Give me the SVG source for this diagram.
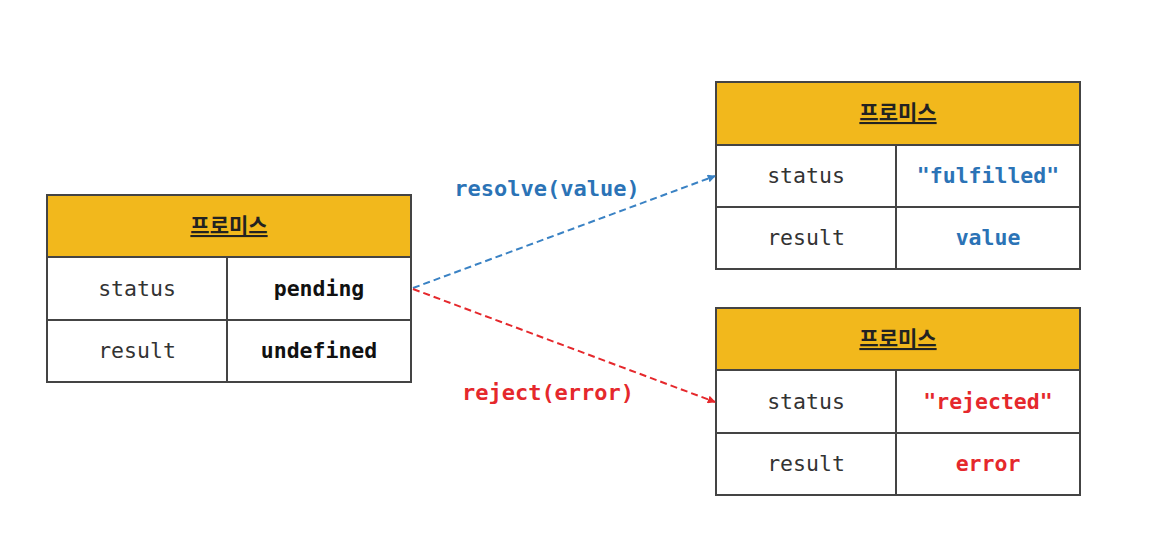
<svg xmlns="http://www.w3.org/2000/svg" width="1150" height="538" viewBox="0 0 1150 538">
<style>
.hdr{fill:#F2B81C;stroke:#444;stroke-width:2}
.cell{fill:#fff;stroke:#444;stroke-width:2}
.ht{font-family:"Noto Sans CJK KR","Noto Sans",sans-serif;font-weight:bold;font-size:21px;fill:#222;text-anchor:middle;text-decoration:underline}
.k{font-family:"DejaVu Sans Mono","Liberation Mono",monospace;font-size:21.5px;fill:#333;text-anchor:middle}
.v{font-family:"DejaVu Sans Mono","Liberation Mono",monospace;font-size:21.5px;font-weight:bold;fill:#111;text-anchor:middle}
.blue{fill:#2B73B6}
.red{fill:#E5282C}
.lb{font-family:"DejaVu Sans Mono","Liberation Mono",monospace;font-size:22px;font-weight:bold;text-anchor:middle}
</style>
<defs>
<marker id="ab" viewBox="0 0 10 10" refX="9" refY="5" markerWidth="8" markerHeight="8" orient="auto" markerUnits="userSpaceOnUse"><path d="M0,0 L10,5 L0,10 z" fill="#3A82C4"/></marker>
<marker id="ar" viewBox="0 0 10 10" refX="9" refY="5" markerWidth="8" markerHeight="8" orient="auto" markerUnits="userSpaceOnUse"><path d="M0,0 L10,5 L0,10 z" fill="#E5282C"/></marker>
</defs>
<rect width="1150" height="538" fill="#fff"/>
<g id="pending">
<rect class="hdr" x="47" y="195" width="364" height="62"/>
<rect class="cell" x="47" y="257" width="180" height="63"/>
<rect class="cell" x="227" y="257" width="184" height="63"/>
<rect class="cell" x="47" y="320" width="180" height="62"/>
<rect class="cell" x="227" y="320" width="184" height="62"/>
<text class="ht" x="229" y="233">프로미스</text>
<text class="k" x="137" y="296">status</text>
<text class="v" x="319" y="296">pending</text>
<text class="k" x="137" y="358">result</text>
<text class="v" x="319" y="358">undefined</text>
</g>
<g id="fulfilled">
<rect class="hdr" x="716" y="82" width="364" height="63"/>
<rect class="cell" x="716" y="145" width="180" height="62"/>
<rect class="cell" x="896" y="145" width="184" height="62"/>
<rect class="cell" x="716" y="207" width="180" height="62"/>
<rect class="cell" x="896" y="207" width="184" height="62"/>
<text class="ht" x="898" y="120">프로미스</text>
<text class="k" x="806" y="183">status</text>
<text class="v blue" x="988" y="183">"fulfilled"</text>
<text class="k" x="806" y="245">result</text>
<text class="v blue" x="988" y="245">value</text>
</g>
<g id="rejected">
<rect class="hdr" x="716" y="308" width="364" height="62"/>
<rect class="cell" x="716" y="370" width="180" height="63"/>
<rect class="cell" x="896" y="370" width="184" height="63"/>
<rect class="cell" x="716" y="433" width="180" height="62"/>
<rect class="cell" x="896" y="433" width="184" height="62"/>
<text class="ht" x="898" y="346">프로미스</text>
<text class="k" x="806" y="409">status</text>
<text class="v red" x="988" y="409">"rejected"</text>
<text class="k" x="806" y="471">result</text>
<text class="v red" x="988" y="471">error</text>
</g>
<g id="connectors">
<line x1="413" y1="288" x2="715" y2="176" stroke="#3A82C4" stroke-width="2" stroke-dasharray="7,4" marker-end="url(#ab)"/>
<line x1="413" y1="289" x2="715" y2="402" stroke="#E5282C" stroke-width="2" stroke-dasharray="7,4" marker-end="url(#ar)"/>
<text class="lb blue" x="547" y="196">resolve(value)</text>
<text class="lb red" x="548" y="400">reject(error)</text>
</g>
</svg>
